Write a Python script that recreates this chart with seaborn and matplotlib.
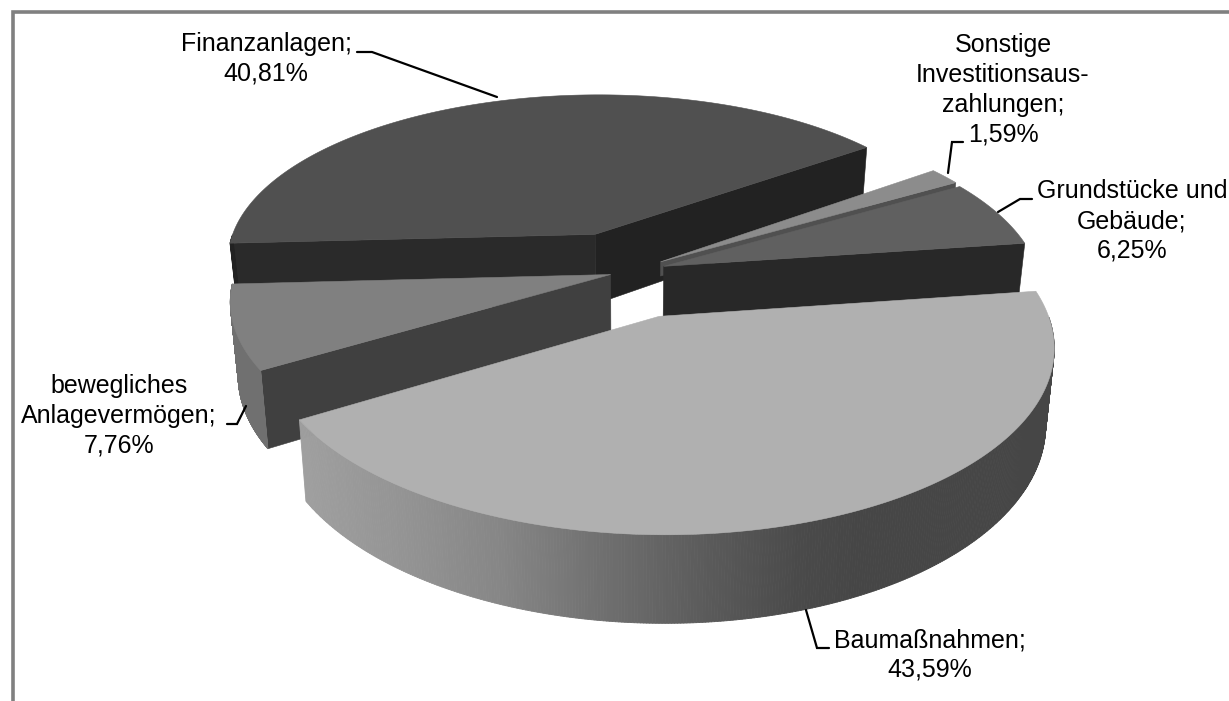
import numpy as np
import matplotlib
matplotlib.use("Agg")
import matplotlib.pyplot as plt
from matplotlib.collections import PolyCollection
import seaborn as sns

# ---- data (clockwise from the start angle) ----
categories = ["Baumaßnahmen", "bewegliches\nAnlagevermögen", "Finanzanlagen",
              "Sonstige\nInvestitionsaus-\nzahlungen", "Grundstücke und\nGebäude"]
shares = [43.59, 7.76, 40.81, 1.59, 6.25]

# ---- style ----
explode = [0.262, 0.040, 0.245, 0.115, 0.110]
top_grey = ["#b0b0b0", "#808080", "#505050", "#8c8c8c", "#606060"]
wall_grey = [None, "#707070", "#222222", "#505050", "#282828"]
cw_cut_grey = [None, None, "#222222", "#505050", "#282828"]
ccw_cut_grey = [None, "#404040", "#2a2a2a", None, None]
cut_depth = [1.0, 1.0, 1.0, 0.2, 1.0]
draw_order = [2, 3, 4, 1, 0]
label_xy = [(930, 655), (119, 416), (266, 59), (1003, 90), (1132, 221)]
leaders = [[(806, 610), (817, 648), (829, 648)],
           [(246, 406), (237, 424), (227, 424)],
           [(497, 97), (372, 52), (357, 52)],
           [(948, 173), (952, 142), (963, 142)],
           [(998, 212), (1020, 199), (1032, 199)]]
start_angle = 8.0
cx, cy, R, A, H, p, taper = 625.0, 272.5, 375.0, 171.0, 72.0, 0.15, 0.02

sns.set_theme(style="white")
plt.rcParams["font.family"] = ["Liberation Sans", "DejaVu Sans"]

fig = plt.figure(figsize=(12.29, 7.01), dpi=100, facecolor="white")
ax = fig.add_axes([0, 0, 1, 1])
ax.set_xlim(0, 1229)
ax.set_ylim(701, 0)
ax.axis("off")


def project(X, Y, Z=0.0):
    w = 1 + p * np.asarray(Y)
    return np.column_stack([cx + R * np.asarray(X) / w * (1 - taper * Z),
                            cy - A * np.asarray(Y) / w + H * Z / w])


def wall_shade(x):
    g = np.interp(x, [295, 400, 500, 600, 700, 800, 860], [160, 148, 134, 112, 92, 74, 70])
    return (g / 255, g / 255, g / 255)


spans = np.array(shares) / sum(shares) * 360
edges = start_angle - np.concatenate([[0], np.cumsum(spans)])
slices = []
for i in range(len(shares)):
    hi, lo = np.radians(edges[i]), np.radians(edges[i + 1])
    mid = (hi + lo) / 2
    ox, oy = explode[i] * np.cos(mid), explode[i] * np.sin(mid)
    slices.append((hi, lo, ox, oy))

for i in draw_order:
    hi, lo, ox, oy = slices[i]
    th = np.linspace(hi, lo, 400)
    X, Y = ox + np.cos(th), oy + np.sin(th)
    base = draw_order.index(i) * 3

    # cut faces
    for ang, grey in ((lo, cw_cut_grey[i]), (hi, ccw_cut_grey[i])):
        if grey is None:
            continue
        ex, ey = ox + np.cos(ang), oy + np.sin(ang)
        a0, a1 = project([ox, ex], [oy, ey], 0.0)
        b0, b1 = project([ox, ex], [oy, ey], cut_depth[i])
        ax.fill(*np.array([a0, a1, b1, b0]).T, color=grey, lw=0.4, zorder=2 + base)

    # outer wall (only the part facing the viewer)
    front = np.sin(th) < 0
    if front.sum() > 1:
        t = project(X[front], Y[front], 0.0)
        b = project(X[front], Y[front], 1.0)
        quads = [[t[k], t[k + 1], b[k + 1], b[k]] for k in range(len(t) - 1)]
        if wall_grey[i] is None:
            cols = [wall_shade((t[k][0] + t[k + 1][0]) / 2) for k in range(len(t) - 1)]
        else:
            cols = [wall_grey[i]] * len(quads)
        ax.add_collection(PolyCollection(quads, facecolors=cols, edgecolors=cols, linewidths=0.6,
                                         zorder=3 + base))

    # top face
    outline = project(np.r_[ox, X], np.r_[oy, Y], 0.0)
    ax.fill(*outline.T, color=top_grey[i], lw=0.4, zorder=4 + base)

# labels and leader lines
for name, value, xy, line in zip(categories, shares, label_xy, leaders):
    text = f"{name};\n{value:.2f}%".replace(".", ",")
    ax.text(*xy, text, ha="center", va="center", fontsize=18, color="black",
            linespacing=1.3, zorder=40)
    ax.plot(*np.array(line).T, color="black", lw=1.6, solid_joinstyle="miter", zorder=40)

# frame fragments of the original chart area
ax.plot([12.5, 12.5, 1229], [701, 12, 12], color="#808080", lw=2.6, solid_joinstyle="miter", zorder=50)

fig.savefig("out.png", dpi=100)
